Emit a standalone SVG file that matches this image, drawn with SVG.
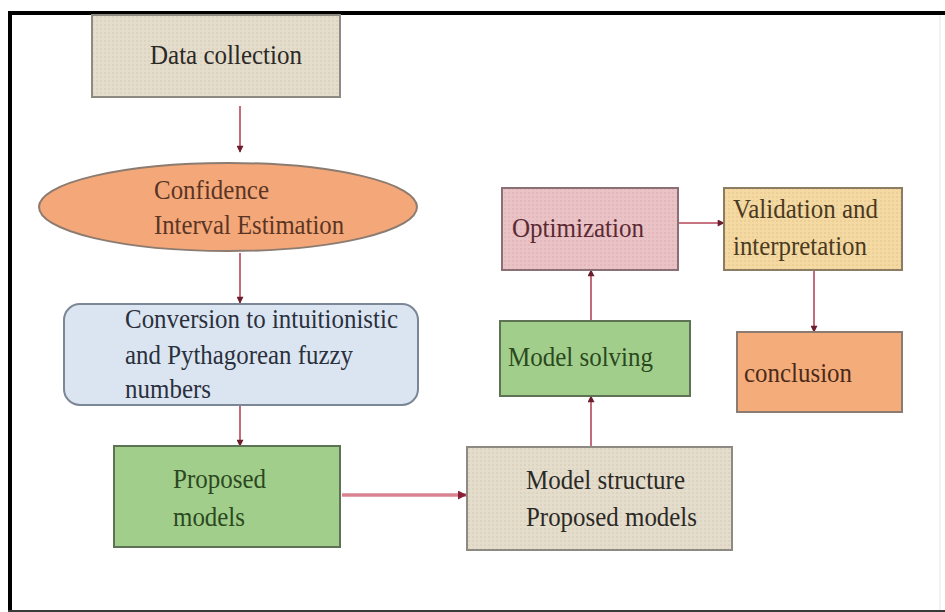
<svg xmlns="http://www.w3.org/2000/svg" width="945" height="612" viewBox="0 0 945 612">
  <defs>
    <marker id="head" viewBox="0 0 10 10" refX="9" refY="5" markerWidth="8" markerHeight="7" orient="auto" markerUnits="userSpaceOnUse">
      <path d="M0,0 L10,5 L0,10 z" fill="#6b1f2c"/>
    </marker>
    <marker id="headWide" viewBox="0 0 10 10" refX="9" refY="5" markerWidth="9" markerHeight="9" orient="auto" markerUnits="userSpaceOnUse">
      <path d="M0,0 L10,5 L0,10 z" fill="#8a2036"/>
    </marker>
    <pattern id="weave" width="4" height="4" patternUnits="userSpaceOnUse">
      <rect width="4" height="4" fill="#e4ddcc"/>
      <rect width="2" height="2" fill="#dcd4c1"/>
    </pattern>
    <pattern id="weavePink" width="4" height="4" patternUnits="userSpaceOnUse">
      <rect width="4" height="4" fill="#eac3c7"/>
      <rect width="2" height="2" fill="#e3b7bc"/>
    </pattern>
    <pattern id="weaveTan" width="4" height="4" patternUnits="userSpaceOnUse">
      <rect width="4" height="4" fill="#f5d9a2"/>
      <rect width="2" height="2" fill="#eccf96"/>
    </pattern>
  </defs>
  <style>
    text { font-family: "Liberation Serif", "Times New Roman", serif; font-size: 27px; }
    .box { stroke-width: 2; }
    .conn { fill: none; stroke: #b5475a; stroke-width: 1.6; marker-end: url(#head); }
    .connWide { fill: none; stroke: #d98391; stroke-width: 3.5; marker-end: url(#headWide); }
  </style>

  <rect width="945" height="612" fill="#ffffff"/>

  <!-- outer frame -->
  <g id="frame">
    <line x1="8" y1="13" x2="945" y2="13" stroke="#000" stroke-width="4"/>
    <line x1="10" y1="11" x2="10" y2="612" stroke="#000" stroke-width="4"/>
    <line x1="8" y1="611" x2="945" y2="611" stroke="#3a3a3a" stroke-width="2"/>
    <line x1="940" y1="15" x2="940" y2="610" stroke="#e6e6e6" stroke-width="1"/>
  </g>

  <!-- connectors -->
  <g id="connectors">
    <line class="conn" x1="240" y1="106" x2="240" y2="152"/>
    <line class="conn" x1="240" y1="253" x2="240" y2="303"/>
    <line class="conn" x1="240" y1="406" x2="240" y2="446"/>
    <line class="connWide" x1="342" y1="495" x2="466" y2="495"/>
    <line class="conn" x1="591" y1="446" x2="591" y2="396"/>
    <line class="conn" x1="591" y1="320" x2="591" y2="270"/>
    <line class="conn" x1="679" y1="223" x2="724" y2="223"/>
    <line class="conn" x1="814" y1="271" x2="814" y2="332"/>
  </g>

  <g id="data-collection">
    <rect class="box" x="92" y="15" width="248" height="82" fill="url(#weave)" stroke="#8d8a84"/>
    <text x="150" y="64" fill="#2b2926" textLength="152" lengthAdjust="spacingAndGlyphs">Data collection</text>
  </g>

  <g id="confidence-interval">
    <ellipse class="box" cx="228" cy="207" rx="189" ry="44" fill="#f4a879" stroke="#8c7b70"/>
    <text x="154" y="199" fill="#5a3525" textLength="115" lengthAdjust="spacingAndGlyphs">Confidence</text>
    <text x="154" y="234" fill="#5a3525" textLength="190" lengthAdjust="spacingAndGlyphs">Interval Estimation</text>
  </g>

  <g id="conversion">
    <rect class="box" x="64" y="304" width="354" height="101" rx="16" fill="#dbe5f1" stroke="#7b8696"/>
    <text x="125" y="328" fill="#2a303c" textLength="273" lengthAdjust="spacingAndGlyphs">Conversion to intuitionistic</text>
    <text x="125" y="364" fill="#2a303c" textLength="228" lengthAdjust="spacingAndGlyphs">and Pythagorean fuzzy</text>
    <text x="125" y="398" fill="#2a303c" textLength="86" lengthAdjust="spacingAndGlyphs">numbers</text>
  </g>

  <g id="proposed-models">
    <rect class="box" x="114" y="446" width="226" height="101" fill="#a1cf8b" stroke="#5e7356"/>
    <text x="173" y="488" fill="#2b4820" textLength="93" lengthAdjust="spacingAndGlyphs">Proposed</text>
    <text x="173" y="526" fill="#2b4820" textLength="72" lengthAdjust="spacingAndGlyphs">models</text>
  </g>

  <g id="model-structure">
    <rect class="box" x="467" y="447" width="265" height="103" fill="url(#weave)" stroke="#8d8a84"/>
    <text x="526" y="489" fill="#2b2926" textLength="159" lengthAdjust="spacingAndGlyphs">Model structure</text>
    <text x="526" y="526" fill="#2b2926" textLength="171" lengthAdjust="spacingAndGlyphs">Proposed models</text>
  </g>

  <g id="model-solving">
    <rect class="box" x="500" y="321" width="190" height="75" fill="#a1cf8b" stroke="#5e7356"/>
    <text x="508" y="366" fill="#2b4820" textLength="145" lengthAdjust="spacingAndGlyphs">Model solving</text>
  </g>

  <g id="optimization">
    <rect class="box" x="502" y="188" width="176" height="82" fill="url(#weavePink)" stroke="#8a7074"/>
    <text x="512" y="237" fill="#5a2a32" textLength="132" lengthAdjust="spacingAndGlyphs">Optimization</text>
  </g>

  <g id="validation">
    <rect class="box" x="724" y="188" width="178" height="82" fill="url(#weaveTan)" stroke="#8c7d62"/>
    <text x="733" y="218" fill="#4a3a22" textLength="145" lengthAdjust="spacingAndGlyphs">Validation and</text>
    <text x="733" y="255" fill="#4a3a22" textLength="134" lengthAdjust="spacingAndGlyphs">interpretation</text>
  </g>

  <g id="conclusion">
    <rect class="box" x="737" y="332" width="165" height="80" fill="#f4ad7a" stroke="#8c7b70"/>
    <text x="744" y="382" fill="#4a2a1a" textLength="108" lengthAdjust="spacingAndGlyphs">conclusion</text>
  </g>
</svg>
